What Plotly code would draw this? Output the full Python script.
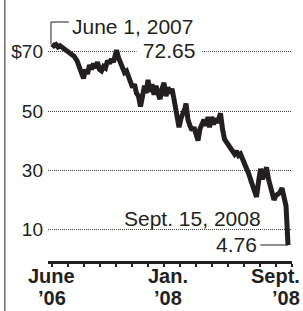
import plotly.graph_objects as go

# ---- data (AIG closing price) ----
dates = [
    "2007-06-01", "2007-06-05", "2007-06-09", "2007-06-13", "2007-06-17", "2007-06-23",
    "2007-06-27", "2007-07-03", "2007-07-09", "2007-07-15", "2007-07-21", "2007-07-27",
    "2007-07-31", "2007-08-03", "2007-08-07", "2007-08-11", "2007-08-15", "2007-08-19",
    "2007-08-23", "2007-08-27", "2007-08-31", "2007-09-04", "2007-09-08", "2007-09-12",
    "2007-09-16", "2007-09-20", "2007-09-24", "2007-09-28", "2007-10-02", "2007-10-08",
    "2007-10-12", "2007-10-16", "2007-10-20", "2007-10-24", "2007-10-28", "2007-11-01",
    "2007-11-05", "2007-11-09", "2007-11-13", "2007-11-17", "2007-11-21", "2007-11-25",
    "2007-11-29", "2007-12-03", "2007-12-06", "2007-12-10", "2007-12-14", "2007-12-18",
    "2007-12-22", "2007-12-26", "2007-12-30", "2008-01-03", "2008-01-07", "2008-01-11",
    "2008-01-15", "2008-01-19", "2008-01-23", "2008-01-27", "2008-01-31", "2008-02-04",
    "2008-02-08", "2008-02-10", "2008-02-14", "2008-02-18", "2008-02-22", "2008-02-24",
    "2008-02-28", "2008-03-03", "2008-03-07", "2008-03-11", "2008-03-15", "2008-03-19",
    "2008-03-23", "2008-03-27", "2008-03-31", "2008-04-04", "2008-04-08", "2008-04-11",
    "2008-04-15", "2008-04-19", "2008-04-23", "2008-04-27", "2008-05-01", "2008-05-03",
    "2008-05-07", "2008-05-11", "2008-05-15", "2008-05-19", "2008-05-23", "2008-05-27",
    "2008-05-31", "2008-06-04", "2008-06-08", "2008-06-12", "2008-06-16", "2008-06-20",
    "2008-06-24", "2008-06-28", "2008-07-02", "2008-07-06", "2008-07-10", "2008-07-14",
    "2008-07-18", "2008-07-22", "2008-07-26", "2008-07-30", "2008-08-03", "2008-08-07",
    "2008-08-11", "2008-08-14", "2008-08-18", "2008-08-22", "2008-08-26", "2008-08-30",
    "2008-09-03", "2008-09-06", "2008-09-09", "2008-09-11", "2008-09-12", "2008-09-15",
]
prices = [
    72.65, 72.0, 72.4, 71.6, 72.0, 71.3,
    70.5, 70.0, 69.5, 68.5, 67.0, 64.0,
    62.5, 61.0, 64.0, 62.5, 65.5, 64.0,
    66.0, 64.5, 66.5, 64.0, 63.5, 65.0,
    64.5, 67.0, 66.0, 67.5, 66.5, 70.5,
    68.0, 66.0, 64.5, 63.0, 63.5, 62.0,
    60.5, 58.0, 59.0, 56.0, 55.0, 51.5,
    55.0, 58.5, 56.0, 60.5, 56.5, 59.0,
    55.5, 58.5, 56.0, 54.0, 57.5, 59.5,
    55.0, 58.0, 56.0, 57.5, 54.0, 50.0,
    46.0, 44.5, 47.5, 49.0, 51.0, 52.5,
    47.0, 45.0, 43.5, 44.5, 42.0, 40.0,
    44.0, 45.5, 47.0, 45.0, 48.0, 44.5,
    48.0, 45.5, 47.5, 46.0, 48.5, 49.2,
    44.0, 40.5, 39.5, 38.5, 37.5, 37.0,
    35.5, 36.5, 35.0, 35.5, 34.0, 33.0,
    31.5, 29.0, 27.0, 25.0, 22.0, 21.0,
    26.0, 30.5, 27.0, 28.5, 31.0, 27.0,
    24.5, 22.5, 20.0, 21.5, 22.0, 22.5,
    24.0, 22.0, 19.5, 18.0, 15.0, 4.76,
]
y_ticks = [10, 30, 50, 70]
y_tick_labels = ["10", "30", "50", "$70"]
peak_label = ["June 1, 2007", "72.65"]
end_label = ["Sept. 15, 2008", "4.76"]
x_labels = [("June", "\u201906"), ("Jan.", "\u201908"), ("Sept.", "\u201908")]

INK = "#231f20"
FONT = "Liberation Sans, Arial, Helvetica, sans-serif"
W, H = 303, 311
L, R, T, B = 46, 11, 28, 50


def px(x):
    return (x - L) / (W - L - R)


def py(y):
    return (H - B - y) / (H - T - B)


fig = go.Figure()
fig.add_trace(go.Scatter(
    x=dates, y=prices, mode="lines",
    line=dict(color=INK, width=5, shape="linear"),
    hoverinfo="skip", showlegend=False,
))

ann = []
ann.append(dict(text=peak_label[0], x=px(68), y=py(26), xref="paper", yref="paper",
                xanchor="left", yanchor="middle", showarrow=False,
                font=dict(size=21, color=INK, family=FONT)))
ann.append(dict(text="\u00a0" + peak_label[1] + "\u00a0", x=px(201), y=py(50),
                xref="paper", yref="paper", xanchor="right", yanchor="middle",
                showarrow=False, bgcolor="white", borderpad=0,
                font=dict(size=21, color=INK, family=FONT)))
ann.append(dict(text=end_label[0], x=px(263), y=py(218), xref="paper", yref="paper",
                xanchor="right", yanchor="middle", showarrow=False,
                font=dict(size=21, color=INK, family=FONT)))
ann.append(dict(text=end_label[1], x=px(259), y=py(244.5), xref="paper", yref="paper",
                xanchor="right", yanchor="middle", showarrow=False,
                font=dict(size=21, color=INK, family=FONT)))

label_pos = [(50, "center"), (167, "center"), (302, "right")]
for (l1, l2), (cx, anchor) in zip(x_labels, label_pos):
    for txt, cy in ((l1, 276), (l2, 298)):
        ann.append(dict(text="<b>" + txt + "</b>", x=px(cx), y=py(cy),
                        xref="paper", yref="paper", xanchor=anchor, yanchor="middle",
                        showarrow=False, font=dict(size=20, color=INK, family=FONT)))

shapes = [
    dict(type="path", xref="paper", yref="paper",
         path=f"M {px(49)},{py(44)} L {px(49)},{py(22)} L {px(67)},{py(22)}",
         line=dict(color=INK, width=1)),
    dict(type="line", xref="paper", yref="paper",
         x0=px(260), x1=px(288), y0=py(245), y1=py(245),
         line=dict(color=INK, width=1)),
    dict(type="line", xref="paper", yref="paper",
         x0=px(2.5), x1=px(2.5), y0=py(0), y1=py(H),
         line=dict(color=INK, width=1)),
]

fig.update_layout(
    width=W, height=H, autosize=False,
    margin=dict(l=L, r=R, t=T, b=B, pad=0),
    paper_bgcolor="white", plot_bgcolor="white",
    showlegend=False,
    annotations=ann, shapes=shapes,
    xaxis=dict(
        type="date", range=["2007-05-24", "2008-09-23"],
        showgrid=False, zeroline=False,
        showline=True, linewidth=3, linecolor=INK,
        ticks="outside", ticklen=3, tickwidth=2, tickcolor=INK,
        tick0="2007-06-01", dtick=32 * 86400000,
        showticklabels=False,
    ),
    yaxis=dict(
        range=[-0.6, 78], tickvals=y_ticks, ticktext=y_tick_labels,
        showgrid=True, gridcolor="#444", gridwidth=1, griddash="1px,1px",
        zeroline=False, showline=False, ticks="",
        ticklabelstandoff=4,
        tickfont=dict(size=19, color=INK, family=FONT),
    ),
)

fig.write_html(
    "out.html",
    config={"displayModeBar": False, "staticPlot": True},
    post_script="document.body.style.margin='0';document.body.style.overflow='hidden';",
)
